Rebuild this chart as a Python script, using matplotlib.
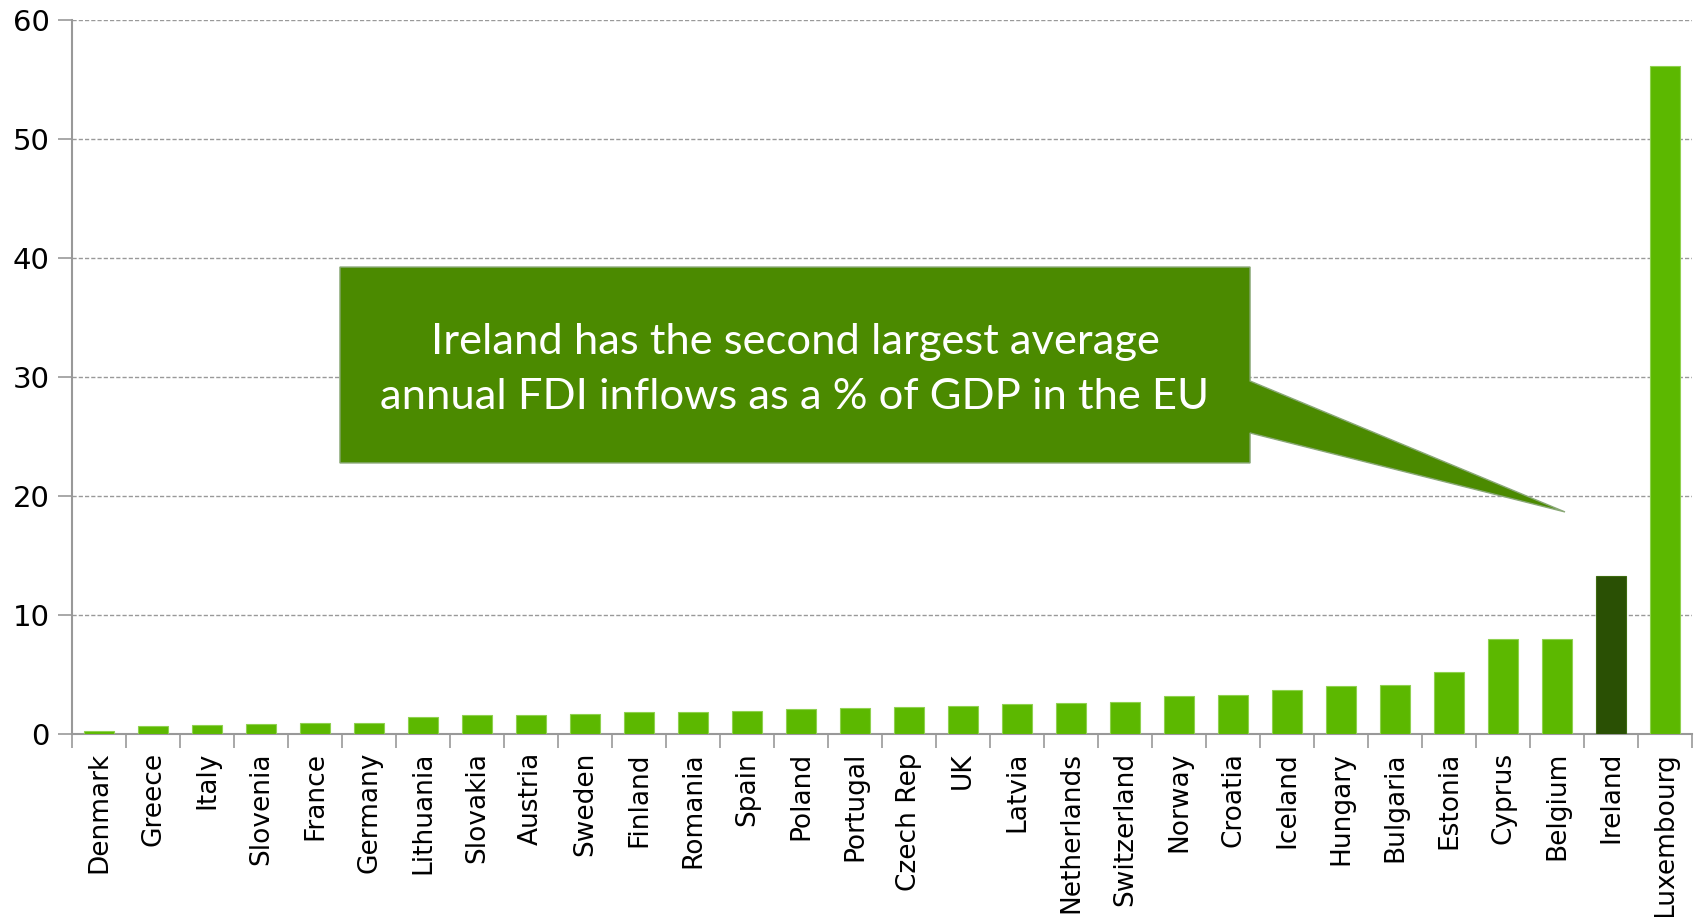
import matplotlib
matplotlib.use("Agg")
import matplotlib.pyplot as plt
from matplotlib.patches import Polygon
import numpy as np

countries = ["Denmark", "Greece", "Italy", "Slovenia", "France", "Germany", "Lithuania",
             "Slovakia", "Austria", "Sweden", "Finland", "Romania", "Spain", "Poland",
             "Portugal", "Czech Rep", "UK", "Latvia", "Netherlands", "Switzerland",
             "Norway", "Croatia", "Iceland", "Hungary", "Bulgaria", "Estonia", "Cyprus",
             "Belgium", "Ireland", "Luxembourg"]
values = [0.28, 0.64, 0.73, 0.81, 0.9, 0.9, 1.4, 1.62, 1.62, 1.65, 1.82, 1.88, 1.94,
          2.11, 2.16, 2.28, 2.36, 2.5, 2.58, 2.7, 3.2, 3.26, 3.7, 4.02, 4.1, 5.25, 7.95,
          8.0, 13.3, 56.1]
highlight = "Ireland"
y_ticks = [0, 10, 20, 30, 40, 50, 60]
callout_text = "Ireland has the second largest average\nannual FDI inflows as a % of GDP in the EU"

light = "#5CB800"
dark = "#2A5004"

fig = plt.figure(figsize=(16.96, 9.17), dpi=100)
ax = fig.add_axes([72/1696, 1 - 734/917, 1620/1696, 714/917])

x = np.arange(len(countries))
colors = [dark if c == highlight else light for c in countries]
edges = ["#3d6b10" if c == highlight else "#8fd14f" for c in countries]
ax.bar(x, values, width=0.55, color=colors, edgecolor=edges, linewidth=0.8, zorder=3)

ax.set_xlim(-0.5, len(countries) - 0.5)
ax.set_ylim(0, 60)
ax.set_yticks(y_ticks)
ax.set_yticklabels([str(t) for t in y_ticks], fontsize=21)
for t in y_ticks[1:]:
    ax.axhline(t, color="#999999", lw=1.0, dashes=(3, 1.5), zorder=1)

ax.set_xticks(x)
ax.set_xticklabels(countries, rotation=90, fontsize=19, va="top", ha="center")
ax.tick_params(axis="x", which="major", length=0, pad=13)
ax.set_xticks(np.arange(-0.5, len(countries)), minor=True)
ax.tick_params(axis="x", which="minor", length=10, width=1.2, color="#999999", direction="out")
ax.tick_params(axis="y", length=10, width=1.2, color="#999999", direction="out", pad=6)

for s in ["top", "right"]:
    ax.spines[s].set_visible(False)
for s in ["left", "bottom"]:
    ax.spines[s].set_color("#999999")
    ax.spines[s].set_linewidth(1.5)

# callout shape (axes fraction coordinates)
x0, x1 = 0.1654, 0.7272
y0, y1 = 0.3796, 0.654
pts = [(x0, y0), (x1, y0), (x1, 0.4216), (0.9216, 0.311), (x1, 0.4944), (x1, y1), (x0, y1)]
poly = Polygon(pts, closed=True, transform=ax.transAxes, facecolor="#4B8A00",
               edgecolor="#8aa878", linewidth=1.0, zorder=5, clip_on=False)
ax.add_patch(poly)
ax.text((x0 + x1) / 2, (y0 + y1) / 2 - 0.006, callout_text, transform=ax.transAxes,
        ha="center", va="center", color="white", fontsize=31.3, family=["Lato", "DejaVu Sans"],
        linespacing=1.55, zorder=6)

fig.savefig("out.png", dpi=100)
